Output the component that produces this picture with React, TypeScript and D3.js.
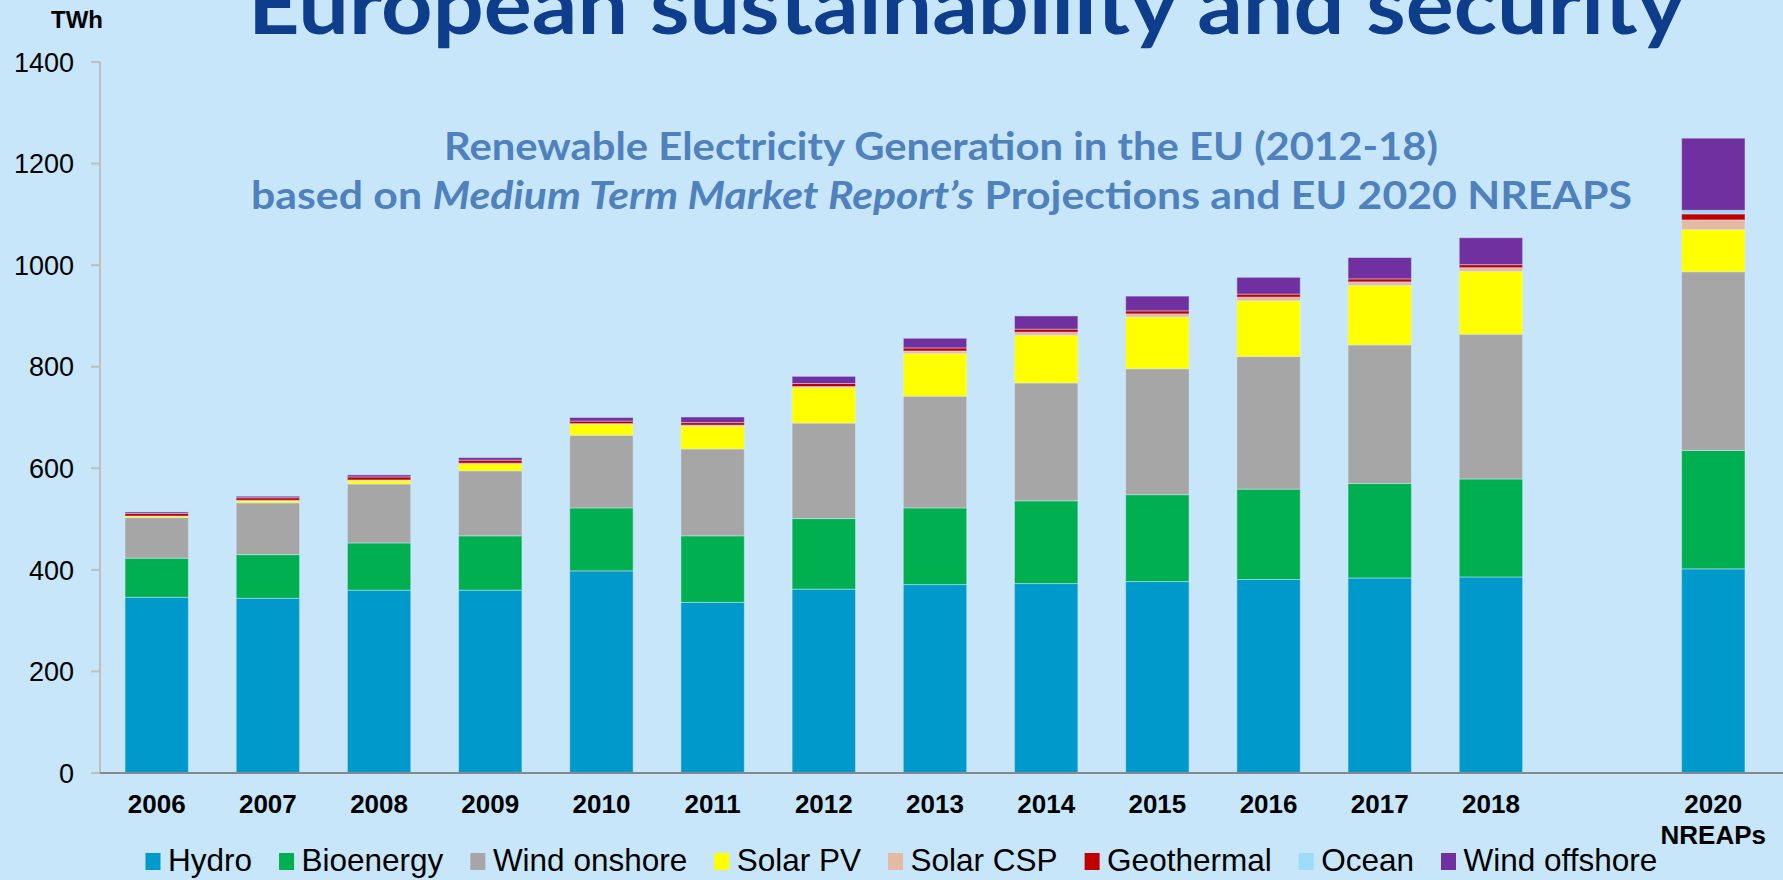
import React, { useEffect, useRef } from "react";
import * as d3 from "d3";

// Years with data (2019 is left empty in the chart)
const years = ["2006", "2007", "2008", "2009", "2010", "2011", "2012", "2013", "2014", "2015", "2016", "2017", "2018", "2020"];
const xDomain = ["2006", "2007", "2008", "2009", "2010", "2011", "2012", "2013", "2014", "2015", "2016", "2017", "2018", "gap", "2020"];
const xLabels: Record<string, string[]> = { "2020": ["2020", "NREAPs"] };

// TWh per technology
const hydro = [346, 344, 360, 360, 398, 336, 362, 371, 373, 377, 381, 384, 386, 402];
const bioenergy = [77, 86, 93, 107, 124, 131, 139, 151, 163, 171, 178, 186, 193, 233];
const windOnshore = [80, 102, 116, 128, 143, 171, 188, 220, 232, 248, 261, 273, 285, 352];
const solarPV = [3, 4, 7, 14, 22, 45, 70, 84, 94, 102, 110, 117, 124, 83];
const solarCSP = [0, 1, 1, 1, 1, 2, 2, 5, 6, 6, 7, 7, 7, 19];
const geothermal = [5, 5, 6, 6, 5, 5, 6, 6, 6, 6, 6, 6, 6, 12];
const ocean = [0, 0, 0, 0, 0, 0, 0, 0, 0, 0, 0, 0, 0, 7];
const windOffshore = [3, 3, 4, 5, 7, 11, 14, 19, 26, 29, 33, 42, 53, 142];

const seriesNames = ["Hydro", "Bioenergy", "Wind onshore", "Solar PV", "Solar CSP", "Geothermal", "Ocean", "Wind offshore"];
const seriesValues = [hydro, bioenergy, windOnshore, solarPV, solarCSP, geothermal, ocean, windOffshore];
const seriesColors = ["#0099CC", "#00B050", "#A6A6A6", "#FFFF00", "#E6B9A2", "#C00000", "#9DDCF9", "#7030A0"];

const yTicks = [0, 200, 400, 600, 800, 1000, 1200, 1400];

const App: React.FC = () => {
  const svgRef = useRef<SVGSVGElement | null>(null);

  useEffect(() => {
    if (!svgRef.current) return;
    const width = 1783;
    const height = 880;
    const svg = d3.select(svgRef.current);
    svg.selectAll("*").remove();

    svg.append("rect").attr("width", width).attr("height", height).attr("fill", "#C7E6FA");

    const x = d3.scaleBand().domain(xDomain).range([100, 1770]).paddingInner(0.43).paddingOuter(0.225);
    const y = d3.scaleLinear().domain([0, 1400]).range([773, 62]);

    // build rows for the stack
    const rows = years.map((yr, i) => {
      const row: Record<string, number | string> = { year: yr };
      seriesNames.forEach((s, j) => (row[s] = seriesValues[j][i]));
      return row;
    });
    const stacked = d3.stack<Record<string, number | string>>().keys(seriesNames)(rows as any);

    // y axis
    const yAxis = svg.append("g").attr("transform", "translate(100,0)");
    yAxis
      .append("line")
      .attr("y1", y(1400))
      .attr("y2", y(0))
      .attr("stroke", "#BFBFBF")
      .attr("stroke-width", 2);
    yAxis
      .selectAll("line.tick")
      .data(yTicks)
      .join("line")
      .attr("class", "tick")
      .attr("x1", -9)
      .attr("x2", 0)
      .attr("y1", (d) => y(d))
      .attr("y2", (d) => y(d))
      .attr("stroke", "#BFBFBF")
      .attr("stroke-width", 2);
    yAxis
      .selectAll("text")
      .data(yTicks)
      .join("text")
      .attr("x", -26)
      .attr("y", (d) => y(d))
      .attr("dy", "0.36em")
      .attr("text-anchor", "end")
      .attr("font-family", "Liberation Sans, Arial, sans-serif")
      .attr("font-size", 27)
      .attr("fill", "#000")
      .text((d) => d);

    svg
      .append("text")
      .attr("x", 51)
      .attr("y", 28)
      .attr("font-family", "Liberation Sans, Arial, sans-serif")
      .attr("font-weight", "bold")
      .attr("font-size", 24)
      .text("TWh");

    // bars
    svg
      .append("g")
      .selectAll("g")
      .data(stacked)
      .join("g")
      .attr("fill", (_, i) => seriesColors[i])
      .selectAll("rect")
      .data((d) => d)
      .join("rect")
      .attr("x", (d) => x(d.data.year as string) || 0)
      .attr("width", x.bandwidth())
      .attr("y", (d) => y(d[1]))
      .attr("height", (d) => Math.max(0, y(d[0]) - y(d[1])))
      .attr("stroke", "rgba(220,235,255,0.45)")
      .attr("stroke-width", 1);

    // x axis line
    svg
      .append("line")
      .attr("x1", 100)
      .attr("x2", width)
      .attr("y1", y(0))
      .attr("y2", y(0))
      .attr("stroke", "#888888")
      .attr("stroke-width", 2);

    // x labels
    const xl = svg
      .append("g")
      .selectAll("text")
      .data(years)
      .join("text")
      .attr("x", (d) => (x(d) || 0) + x.bandwidth() / 2)
      .attr("y", 813)
      .attr("text-anchor", "middle")
      .attr("font-family", "Liberation Sans, Arial, sans-serif")
      .attr("font-weight", "bold")
      .attr("font-size", 26);
    xl.each(function (d) {
      const lines = xLabels[d] || [d];
      d3.select(this)
        .selectAll("tspan")
        .data(lines)
        .join("tspan")
        .attr("x", (x(d) || 0) + x.bandwidth() / 2)
        .attr("dy", (_, i) => (i === 0 ? 0 : 31))
        .text((t) => t);
    });

    // legend
    const legend = svg.append("g");
    let lx = 145.5;
    seriesNames.forEach((name, i) => {
      legend
        .append("rect")
        .attr("x", lx)
        .attr("y", 853)
        .attr("width", 15)
        .attr("height", 17)
        .attr("fill", seriesColors[i]);
      const t = legend
        .append("text")
        .attr("x", lx + 22.5)
        .attr("y", 871)
        .attr("font-family", "Liberation Sans, Arial, sans-serif")
        .attr("font-size", 31.5)
        .attr("fill", "#000")
        .text(name);
      const w = (t.node() as SVGTextElement).getComputedTextLength();
      lx = lx + 22.5 + w + 27;
    });

    // title (cut at top like the slide)
    svg
      .append("text")
      .attr("x", 248)
      .attr("y", 34)
      .attr("font-family", "Lato, Open Sans, sans-serif")
      .attr("font-weight", "bold")
      .attr("font-size", 82)
      .attr("fill", "#0D3D8B")
      .attr("textLength", 1437)
      .attr("lengthAdjust", "spacingAndGlyphs")
      .text("European sustainability and security");

    // subtitle
    svg
      .append("text")
      .attr("x", 444)
      .attr("y", 160)
      .attr("font-family", "Lato, Open Sans, sans-serif")
      .attr("font-weight", "bold")
      .attr("font-size", 39)
      .attr("fill", "#4F81BD")
      .attr("textLength", 994)
      .attr("lengthAdjust", "spacingAndGlyphs")
      .text("Renewable Electricity Generation in the EU (2012-18)");

    const sub2 = svg
      .append("text")
      .attr("x", 251)
      .attr("y", 209)
      .attr("font-family", "Lato, Open Sans, sans-serif")
      .attr("font-weight", "bold")
      .attr("font-size", 39)
      .attr("fill", "#4F81BD")
      .attr("textLength", 1381)
      .attr("lengthAdjust", "spacingAndGlyphs");
    sub2.append("tspan").text("based on ");
    sub2.append("tspan").attr("font-style", "italic").text("Medium Term Market Report\u2019s");
    sub2.append("tspan").text(" Projections and EU 2020 NREAPS");
  }, []);

  return (
    <svg
      ref={svgRef}
      width={1783}
      height={880}
      style={{ position: "absolute", left: 0, top: 0, display: "block" }}
    ></svg>
  );
};

export default App;
